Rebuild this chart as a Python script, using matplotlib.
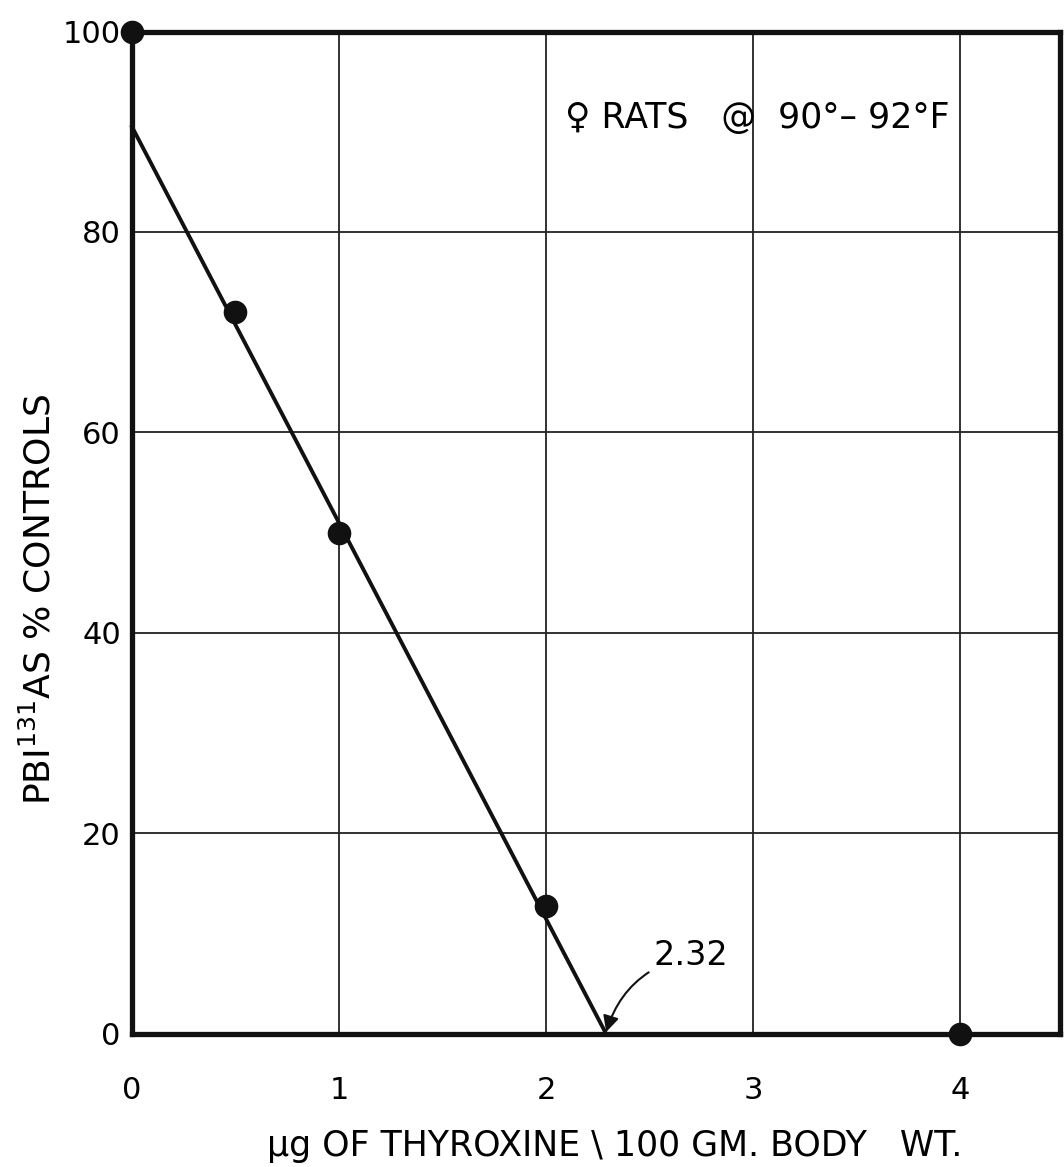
import matplotlib
matplotlib.use("Agg")
import matplotlib.pyplot as plt

# measured points
dose = [0, 0.5, 1, 2, 4]
pbi_pct = [100, 72, 50, 12.8, 0]

# fitted line drawn by hand
fit_x = [0, 2.29]
fit_y = [90.5, 0]

x_ticks = [0, 1, 2, 3, 4]
y_ticks = [0, 20, 40, 60, 80, 100]
y_ticklabels = ["0", "20", "40", "60", "80", "100"]

plt.rcParams['font.family'] = ['DejaVu Sans']

fig = plt.figure(figsize=(10.64, 11.67), dpi=100)
ax = fig.add_axes([0.124, 0.114, 0.872, 0.859])

ax.set_xlim(0, 4.48)
ax.set_ylim(0, 100)

ax.set_xticks(x_ticks)
ax.set_yticks(y_ticks)
ax.set_yticklabels(y_ticklabels)
ax.tick_params(length=0, labelsize=22)
ax.tick_params(axis='x', pad=30)
ax.tick_params(axis='y', pad=8)

ax.grid(True, color='#222222', linewidth=1.3)
ax.set_axisbelow(True)

for s in ax.spines.values():
    s.set_linewidth(3.8)
    s.set_color('#111111')

ax.plot(fit_x, fit_y, color='#111111', linewidth=2.8, zorder=3, clip_on=False)
ax.plot(dose, pbi_pct, 'o', color='#111111', markersize=16, zorder=4, clip_on=False)

ax.text(2.09, 91.4, "\u2640 RATS   @  90\u00b0\u2013 92\u00b0F", fontsize=25,
        ha='left', va='center')

ax.annotate("2.32", xy=(2.29, 0.2), xytext=(2.52, 7.8), fontsize=24,
            ha='left', va='center',
            arrowprops=dict(arrowstyle='-|>', color='#111111', lw=1.5,
                            connectionstyle='arc3,rad=0.3',
                            shrinkA=2, shrinkB=0))

ax.set_ylabel("PBI$^{131}$AS % CONTROLS", fontsize=26)
ax.yaxis.set_label_coords(-0.08, 0.433)
ax.set_xlabel("\u03bcg OF THYROXINE \\ 100 GM. BODY   WT.", fontsize=25)
ax.xaxis.set_label_coords(0.52, -0.095)

fig.savefig("out.png", dpi=100)
